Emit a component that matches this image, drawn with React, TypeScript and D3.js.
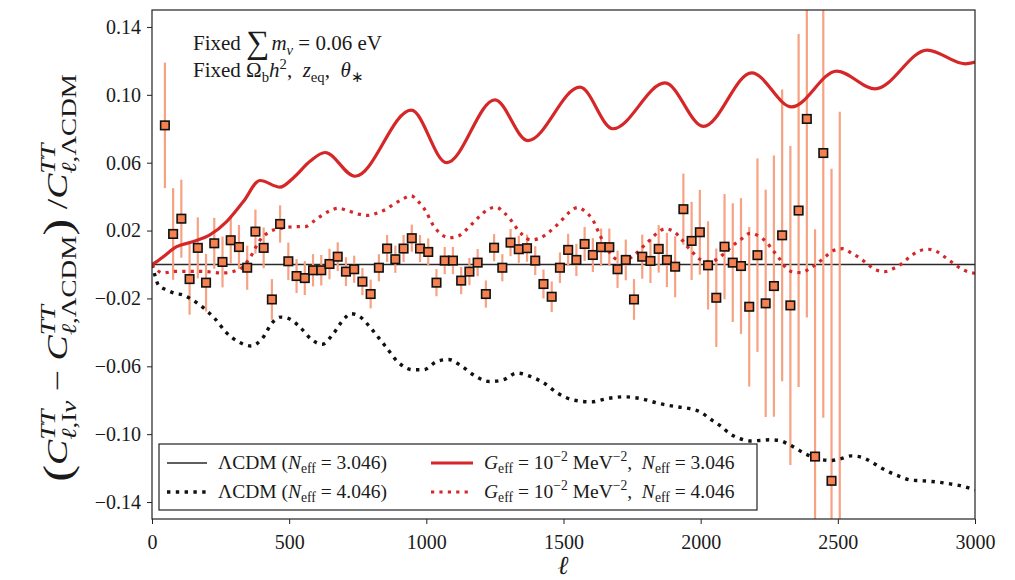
import React, { useEffect, useRef } from 'react';
import * as d3 from 'd3';

const W = 1015;
const H = 580;
const FONT = "'Liberation Serif', 'Times New Roman', serif";

const xTicks = [0, 500, 1000, 1500, 2000, 2500, 3000];
const yTicks = [-0.14, -0.1, -0.06, -0.02, 0.02, 0.06, 0.1, 0.14];

// Binned data residuals (Planck-like)
const binEll = [47, 77, 107, 137, 167, 197, 227, 257, 287, 317, 347, 377, 407, 437, 467, 497, 527, 557, 587, 617, 647, 677, 707, 737, 767, 797, 827, 857, 887, 917, 947, 977, 1007, 1037, 1067, 1097, 1127, 1157, 1187, 1217, 1247, 1277, 1307, 1337, 1367, 1397, 1427, 1457, 1487, 1517, 1547, 1577, 1607, 1637, 1667, 1697, 1727, 1757, 1787, 1817, 1847, 1877, 1907, 1937, 1967, 1997, 2027, 2057, 2087, 2117, 2147, 2177, 2207, 2237, 2267, 2297, 2327, 2357, 2387, 2417, 2447, 2477, 2507];
const binValue = [0.082, 0.018, 0.027, -0.0086, 0.0098, -0.0107, 0.0125, 0.0015, 0.0143, 0.0103, -0.0019, 0.0194, 0.0098, -0.0206, 0.0239, 0.0019, -0.0068, -0.008, -0.0034, -0.0034, 0.0003, 0.0046, -0.0042, -0.0028, -0.0101, -0.0174, -0.0019, 0.0094, 0.0031, 0.0094, 0.0155, 0.0094, 0.0074, -0.0107, 0.0023, 0.0023, -0.0095, -0.0042, 0.0011, -0.0174, 0.0099, -0.0019, 0.0129, 0.009, 0.0096, 0.0023, -0.0115, -0.019, -0.0019, 0.0086, 0.0027, 0.0121, 0.0056, 0.0102, 0.0102, -0.0028, 0.0027, -0.0206, 0.0046, 0.0021, 0.0092, 0.0027, -0.0013, 0.0326, 0.0139, 0.019, -0.0005, -0.0196, 0.0105, 0.0011, -0.0009, -0.0249, 0.0055, -0.0229, -0.0127, 0.0172, -0.0241, 0.0318, 0.0858, -0.1132, 0.0657, -0.1275, -0.17];
const binError = [0.037, 0.027, 0.023, 0.021, 0.018, 0.017, 0.015, 0.015, 0.014, 0.013, 0.013, 0.013, 0.012, 0.012, 0.011, 0.011, 0.01, 0.01, 0.0095, 0.009, 0.009, 0.0085, 0.0085, 0.008, 0.008, 0.0085, 0.008, 0.008, 0.008, 0.008, 0.008, 0.008, 0.008, 0.008, 0.008, 0.008, 0.008, 0.008, 0.008, 0.008, 0.008, 0.008, 0.008, 0.008, 0.008, 0.0085, 0.0085, 0.009, 0.009, 0.0095, 0.0095, 0.01, 0.01, 0.011, 0.011, 0.011, 0.012, 0.012, 0.013, 0.013, 0.014, 0.016, 0.018, 0.021, 0.023, 0.025, 0.026, 0.029, 0.031, 0.035, 0.04, 0.047, 0.057, 0.067, 0.077, 0.086, 0.094, 0.104, 0.117, 0.134, 0.156, 0.184, 0.26];

// G_eff = 1e-2 MeV^-2, N_eff = 3.046 (red solid)
const geff3Ell = [0, 20, 41, 90, 151, 211, 272, 333, 394, 467, 515, 576, 631, 740, 945, 1074, 1250, 1370, 1560, 1680, 1870, 2010, 2186, 2332, 2496, 2636, 2826, 2964, 3000];
const geff3Val = [0, 0.002, 0.0046, 0.0105, 0.0135, 0.0174, 0.0253, 0.0371, 0.0495, 0.0456, 0.051, 0.0608, 0.066, 0.052, 0.091, 0.06, 0.097, 0.073, 0.1045, 0.08, 0.107, 0.0814, 0.113, 0.0929, 0.114, 0.1035, 0.1264, 0.1183, 0.1193];

// G_eff = 1e-2 MeV^-2, N_eff = 4.046 (red dotted)
const geff4Ell = [0, 40, 84, 175, 260, 320, 357, 394, 430, 478, 530, 558, 588, 619, 650, 679, 716, 752, 783, 819, 853, 883, 913, 944, 971, 995, 1026, 1050, 1083, 1117, 1145, 1169, 1196, 1222, 1254, 1283, 1308, 1329, 1351, 1380, 1414, 1445, 1473, 1497, 1521, 1552, 1582, 1607, 1633, 1670, 1700, 1728, 1757, 1786, 1813, 1840, 1870, 1903, 1929, 1952, 1974, 1998, 2034, 2065, 2093, 2120, 2150, 2180, 2211, 2238, 2262, 2286, 2305, 2332, 2365, 2399, 2429, 2457, 2484, 2518, 2551, 2581, 2612, 2640, 2672, 2705, 2735, 2763, 2797, 2829, 2861, 2891, 2921, 2952, 2982, 3000];
const geff4Val = [0, -0.005, -0.004, -0.004, -0.005, -0.0027, 0.004, 0.0145, 0.0194, 0.0216, 0.0223, 0.0223, 0.0253, 0.0289, 0.0318, 0.0332, 0.0316, 0.0297, 0.0289, 0.0302, 0.0326, 0.0357, 0.0385, 0.0405, 0.0371, 0.0322, 0.0229, 0.0184, 0.0158, 0.0168, 0.0204, 0.0243, 0.0287, 0.0322, 0.0338, 0.0306, 0.0263, 0.0214, 0.0174, 0.0145, 0.0155, 0.0188, 0.0228, 0.0267, 0.0308, 0.0336, 0.0308, 0.0263, 0.0172, 0.0066, 0.0027, 0.0027, 0.0056, 0.0099, 0.0141, 0.0184, 0.021, 0.0194, 0.015, 0.0105, 0.0066, 0.003, 0.0017, 0.0037, 0.0076, 0.0115, 0.0152, 0.0184, 0.0168, 0.0135, 0.0086, 0.0037, -0.0009, -0.0042, -0.0048, -0.0022, 0.0011, 0.005, 0.0082, 0.0093, 0.0066, 0.0037, -0.0003, -0.0033, -0.0042, -0.0022, 0.0007, 0.0046, 0.008, 0.009, 0.0076, 0.0043, 0.0007, -0.0028, -0.0046, -0.0052];

// LCDM N_eff = 4.046 (black dotted)
const lcdm4Ell = [0, 10, 23, 54, 84, 114, 145, 175, 205, 230, 270, 320, 360, 400, 440, 470, 500, 540, 580, 620, 660, 700, 725, 760, 800, 850, 900, 950, 990, 1040, 1080, 1130, 1180, 1230, 1280, 1330, 1380, 1430, 1480, 1540, 1600, 1660, 1720, 1780, 1850, 1920, 1961, 2000, 2034, 2071, 2107, 2143, 2180, 2217, 2250, 2287, 2317, 2350, 2381, 2413, 2445, 2474, 2508, 2550, 2587, 2624, 2654, 2690, 2727, 2763, 2800, 2836, 2873, 2909, 2946, 2989, 3000];
const lcdm4Val = [0, -0.006, -0.012, -0.015, -0.017, -0.018, -0.0206, -0.024, -0.028, -0.032, -0.04, -0.046, -0.048, -0.044, -0.034, -0.031, -0.032, -0.037, -0.044, -0.047, -0.041, -0.032, -0.029, -0.031, -0.038, -0.048, -0.058, -0.062, -0.062, -0.057, -0.056, -0.06, -0.066, -0.069, -0.068, -0.064, -0.066, -0.07, -0.076, -0.08, -0.081, -0.079, -0.078, -0.079, -0.082, -0.084, -0.085, -0.087, -0.091, -0.095, -0.0998, -0.1026, -0.104, -0.1037, -0.1033, -0.1037, -0.1057, -0.1086, -0.1116, -0.1136, -0.1151, -0.1155, -0.1146, -0.1128, -0.1136, -0.1165, -0.1195, -0.1225, -0.125, -0.127, -0.1274, -0.1278, -0.1284, -0.1293, -0.1303, -0.1323, -0.1328];

const RED = '#d62728';
const BAR = '#f6a283';
const SQ = '#f4814f';
const EQ = '\u2005=\u2005';

type Seg = [string, boolean];
type Piece = { s: string | Seg[]; it?: boolean; sc?: number; sh?: number; stack?: boolean; kern?: number };

function mathText(parent: any, pieces: Piece[], fs: number, anchor: 'start' | 'middle' | 'end') {
  const g = parent.append('g');
  let cx = 0;
  let lastStart = 0;
  for (const p of pieces) {
    const size = fs * (p.sc ?? 1);
    const sx = (p.stack ? lastStart : cx) + (p.kern ?? 0) * fs;
    const t = g
      .append('text')
      .attr('x', sx)
      .attr('y', -(p.sh ?? 0) * fs)
      .attr('font-size', size)
      .attr('font-family', FONT)
      .attr('fill', '#1a1a1a')
      .style('white-space', 'pre');
    const segs: Seg[] = typeof p.s === 'string' ? [[p.s, !!p.it]] : p.s;
    segs.forEach(([str, it]) => t.append('tspan').attr('font-style', it ? 'italic' : 'normal').text(str));
    const w = (t.node() as SVGTextElement).getComputedTextLength();
    if (p.stack) cx = Math.max(cx, sx + w);
    else {
      lastStart = sx;
      cx = sx + w;
    }
  }
  const off = anchor === 'middle' ? -cx / 2 : anchor === 'end' ? -cx : 0;
  g.attr('transform', `translate(${off},0)`);
  return g;
}

export default function App() {
  const ref = useRef<SVGSVGElement | null>(null);

  useEffect(() => {
    const svg = d3.select(ref.current);
    svg.selectAll('*').remove();

    const x = d3.scaleLinear().domain([0, 3000]).range([152, 975]);
    const y = d3.scaleLinear().domain([-0.15, 0.15]).range([519, 10]);
    const [x0, x1] = x.range();
    const [yb, yt] = y.range();

    svg.append('defs').append('clipPath').attr('id', 'plotclip')
      .append('rect').attr('x', x0).attr('y', yt).attr('width', x1 - x0).attr('height', yb - yt);

    const plot = svg.append('g').attr('clip-path', 'url(#plotclip)');

    // LCDM N_eff = 3.046 reference line
    plot.append('line')
      .attr('x1', x(0)).attr('x2', x(3000)).attr('y1', y(0)).attr('y2', y(0))
      .attr('stroke', '#2a2a2a').attr('stroke-width', 1.4);

    // error bars
    plot.append('g').selectAll('line').data(binEll).join('line')
      .attr('x1', (d: number) => x(d)).attr('x2', (d: number) => x(d))
      .attr('y1', (_d: number, i: number) => y(binValue[i] + binError[i]))
      .attr('y2', (_d: number, i: number) => y(binValue[i] - binError[i]))
      .attr('stroke', BAR).attr('stroke-width', 2.2);

    const line = d3.line<[number, number]>().x((d) => x(d[0])).y((d) => y(d[1])).curve(d3.curveMonotoneX);

    const lcdm4 = lcdm4Ell.map((l, i) => [l, lcdm4Val[i]] as [number, number]);
    const geff4 = geff4Ell.map((l, i) => [l, geff4Val[i]] as [number, number]);
    const geff3 = geff3Ell.map((l, i) => [l, geff3Val[i]] as [number, number]);

    plot.append('path').attr('d', line(lcdm4)).attr('fill', 'none')
      .attr('stroke', '#111').attr('stroke-width', 3.4).attr('stroke-dasharray', '3.4 5.4');
    plot.append('path').attr('d', line(geff4)).attr('fill', 'none')
      .attr('stroke', RED).attr('stroke-width', 3.2).attr('stroke-dasharray', '3.2 5.2');
    plot.append('path').attr('d', line(geff3)).attr('fill', 'none')
      .attr('stroke', RED).attr('stroke-width', 3.2);

    // squares
    const s = 8.5;
    plot.append('g').selectAll('rect').data(binEll).join('rect')
      .attr('x', (d: number) => x(d) - s / 2)
      .attr('y', (_d: number, i: number) => y(binValue[i]) - s / 2)
      .attr('width', s).attr('height', s)
      .attr('fill', SQ).attr('stroke', '#111').attr('stroke-width', 1.6);

    // axes
    const ax = svg.append('g').attr('transform', `translate(0,${yb})`)
      .call(d3.axisBottom(x).tickValues(xTicks).tickSize(5).tickPadding(6).tickFormat(d3.format('d')));
    const ay = svg.append('g').attr('transform', `translate(${x0},0)`)
      .call(d3.axisLeft(y).tickValues(yTicks).tickSize(5).tickPadding(6).tickFormat(d3.format('.2f')));
    [ax, ay].forEach((a) => {
      a.select('.domain').remove();
      a.selectAll('line').attr('stroke', '#222').attr('stroke-width', 1);
      a.selectAll('text').attr('font-family', FONT).attr('font-size', 20).attr('fill', '#1a1a1a');
    });
    ax.selectAll('text').attr('dy', '0.95em');

    svg.append('rect').attr('x', x0).attr('y', yt).attr('width', x1 - x0).attr('height', yb - yt)
      .attr('fill', 'none').attr('stroke', '#222').attr('stroke-width', 1.2);

    // x label
    svg.append('text').attr('x', 563).attr('y', 574).attr('text-anchor', 'middle')
      .attr('font-family', FONT).attr('font-style', 'italic').attr('font-size', 26).attr('fill', '#1a1a1a').text('ℓ');

    // y label
    const yl = svg.append('g').attr('transform', 'translate(67,278) rotate(-90) scale(1.3,1)');
    const sup = 0.42, sub = -0.3, ss = 0.72;
    mathText(yl, [
      { s: '(', sc: 1.35, sh: -0.13 },
      { s: 'C', it: true },
      { s: 'TT', it: true, sc: ss, sh: sup },
      { s: [['ℓ', true], [',I', false], ['ν', true]], sc: ss, sh: sub, stack: true },
      { s: ' − ' },
      { s: 'C', it: true },
      { s: 'TT', it: true, sc: ss, sh: sup },
      { s: [['ℓ', true], [',ΛCDM', false]], sc: ss, sh: sub, stack: true },
      { s: ')', sc: 1.35, sh: -0.13 },
      { s: ' /' },
      { s: 'C', it: true },
      { s: 'TT', it: true, sc: ss, sh: sup },
      { s: [['ℓ', true], [',ΛCDM', false]], sc: ss, sh: sub, stack: true },
    ], 29, 'middle');

    // annotation
    const afs = 21;
    const a1 = svg.append('g').attr('transform', 'translate(193,50)');
    mathText(a1, [
      { s: 'Fixed ' },
      { s: '∑', sc: 1.55, sh: -0.12 },
      { s: 'm', it: true, kern: 0.1 },
      { s: 'ν', it: true, sc: 0.7, sh: -0.22 },
      { s: EQ + '0.06 eV' },
    ], afs, 'start');
    const a2 = svg.append('g').attr('transform', 'translate(193,77)');
    mathText(a2, [
      { s: 'Fixed Ω' },
      { s: 'b', sc: 0.7, sh: -0.22 },
      { s: 'h', it: true },
      { s: '2', sc: 0.7, sh: 0.4 },
      { s: ',  ' },
      { s: 'z', it: true },
      { s: 'eq', sc: 0.7, sh: -0.22 },
      { s: ',  ' },
      { s: 'θ', it: true },
      { s: '∗', sc: 0.7, sh: -0.22 },
    ], afs, 'start');

    // legend
    const lg = svg.append('g');
    lg.append('rect').attr('x', 159).attr('y', 444).attr('width', 598).attr('height', 66)
      .attr('fill', 'white').attr('stroke', '#222').attr('stroke-width', 1.2);
    const rows = [463, 492];
    const c1 = [167, 207], c2 = [431, 473];
    lg.append('line').attr('x1', c1[0]).attr('x2', c1[1]).attr('y1', rows[0]).attr('y2', rows[0])
      .attr('stroke', '#2a2a2a').attr('stroke-width', 1.4);
    lg.append('line').attr('x1', c1[0]).attr('x2', c1[1]).attr('y1', rows[1]).attr('y2', rows[1])
      .attr('stroke', '#111').attr('stroke-width', 3.4).attr('stroke-dasharray', '3.4 5.4');
    lg.append('line').attr('x1', c2[0]).attr('x2', c2[1]).attr('y1', rows[0]).attr('y2', rows[0])
      .attr('stroke', RED).attr('stroke-width', 3.2);
    lg.append('line').attr('x1', c2[0]).attr('x2', c2[1]).attr('y1', rows[1]).attr('y2', rows[1])
      .attr('stroke', RED).attr('stroke-width', 3.2).attr('stroke-dasharray', '3.2 5.2');
    const lfs = 19.5;
    const lcdmEntry = (v: string): Piece[] => [
      { s: 'ΛCDM (' },
      { s: 'N', it: true },
      { s: 'eff', sc: 0.7, sh: -0.22 },
      { s: `${EQ}${v})` },
    ];
    const geffEntry = (v: string): Piece[] => [
      { s: 'G', it: true },
      { s: 'eff', sc: 0.7, sh: -0.22 },
      { s: EQ + '10' },
      { s: '−2', sc: 0.7, sh: 0.42 },
      { s: ' MeV' },
      { s: '−2', sc: 0.7, sh: 0.42 },
      { s: ',  ' },
      { s: 'N', it: true },
      { s: 'eff', sc: 0.7, sh: -0.22 },
      { s: `${EQ}${v}` },
    ];
    mathText(lg.append('g').attr('transform', `translate(218,${rows[0] + 6})`), lcdmEntry('3.046'), lfs, 'start');
    mathText(lg.append('g').attr('transform', `translate(218,${rows[1] + 6})`), lcdmEntry('4.046'), lfs, 'start');
    mathText(lg.append('g').attr('transform', `translate(484,${rows[0] + 6})`), geffEntry('3.046'), lfs, 'start');
    mathText(lg.append('g').attr('transform', `translate(484,${rows[1] + 6})`), geffEntry('4.046'), lfs, 'start');
  }, []);

  return (
    <svg
      ref={ref}
      width={W}
      height={H}
      viewBox={`0 0 ${W} ${H}`}
      style={{ position: 'absolute', left: 0, top: 0, background: 'white', display: 'block' }}
    />
  );
}
